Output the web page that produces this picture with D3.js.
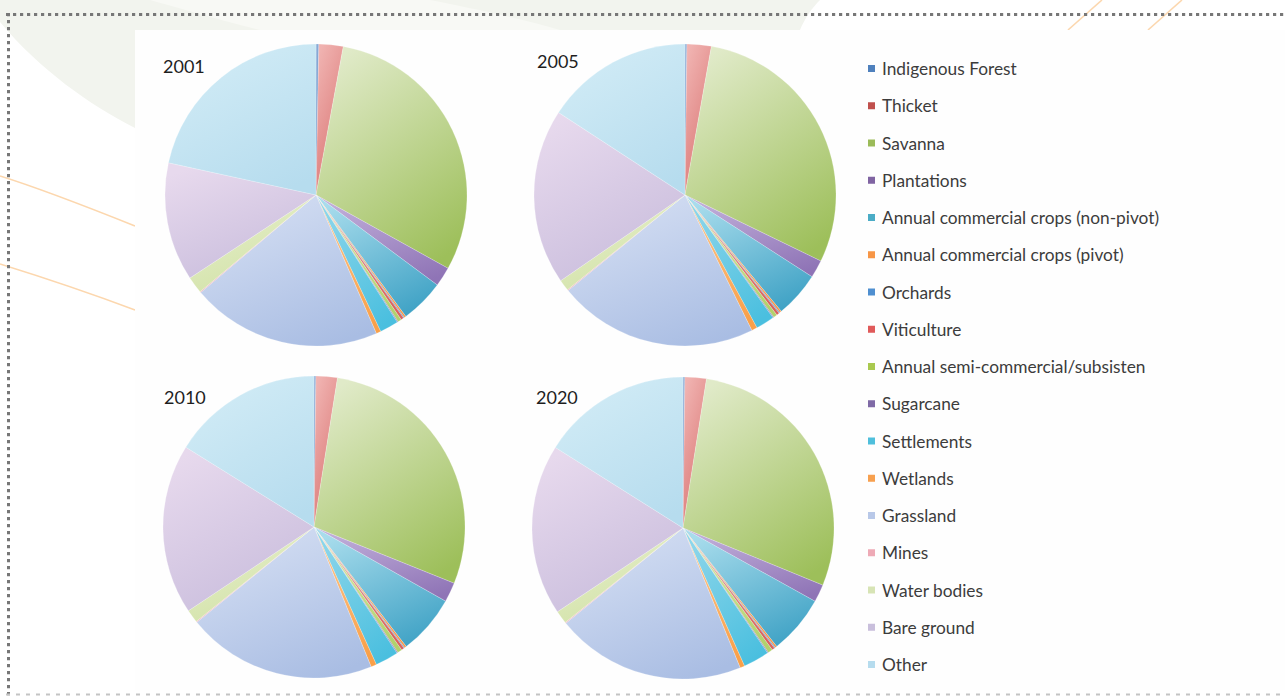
<!DOCTYPE html>
<html>
<head>
<meta charset="utf-8">
<script src="https://cdn.jsdelivr.net/npm/d3@7"></script>
<style>
  html, body { margin: 0; padding: 0; background: #ffffff; }
  svg { display: block; }
</style>
</head>
<body>
<svg id="chart" width="1285" height="696"></svg>
<script>
// Land cover categories, in slice order (clockwise from 12 o'clock)
const categories = [
  "Indigenous Forest", "Thicket", "Savanna", "Plantations",
  "Annual commercial crops (non-pivot)", "Annual commercial crops (pivot)",
  "Orchards", "Viticulture", "Annual semi-commercial/subsisten", "Sugarcane",
  "Settlements", "Wetlands", "Grassland", "Mines", "Water bodies",
  "Bare ground", "Other"
];

// Share of area (%) per category for each year
const years = ["2001", "2005", "2010", "2020"];
const share2001 = [0.3, 2.6, 30.2, 2.1, 4.7, 0.2, 0.1, 0.3, 0.4, 0.1, 2.0, 0.5, 20.4, 0.1, 1.8, 12.7, 21.6];
const share2005 = [0.2, 2.6, 29.4, 1.9, 4.9, 0.2, 0.1, 0.3, 0.4, 0.1, 2.0, 0.6, 21.4, 0.1, 1.2, 18.8, 15.8];
const share2010 = [0.2, 2.3, 28.7, 2.1, 6.4, 0.2, 0.1, 0.3, 0.5, 0.1, 2.5, 0.6, 20.4, 0.1, 1.4, 18.3, 16.2];
const share2020 = [0.2, 2.3, 28.8, 1.9, 6.3, 0.2, 0.1, 0.3, 0.5, 0.1, 2.8, 0.5, 20.4, 0.1, 1.4, 18.4, 16.1];
const shares = [share2001, share2005, share2010, share2020];

// Slice colours: [dark end, light end] of each gradient
const sliceColors = [
  ["#4f81bd", "#8fb0da"], ["#d8716f", "#f0b2b0"], ["#9dbf5a", "#e0eac8"],
  ["#8f74b6", "#c1afda"], ["#3fa2c5", "#a8dcec"], ["#f79646", "#fbb77a"],
  ["#5a96cf", "#8fbbe3"], ["#d8625f", "#ec9a98"], ["#b2d16c", "#d8e9a9"],
  ["#8e75b5", "#b9a7d5"], ["#4abfdf", "#8ed6ea"], ["#f9a049", "#fcc48a"],
  ["#a9bde3", "#d5dff3"], ["#eaa5b0", "#f5cdd3"], ["#d0e1a4", "#e7efcd"],
  ["#c8bcdc", "#e7d9ed"], ["#b6dcee", "#d2ecf6"]
];
const legendSwatch = [
  "#4f81bd", "#c0504d", "#9bbb59", "#8064a2", "#4bacc6", "#f79646",
  "#4f8fd0", "#e05a5a", "#a9c94f", "#7f6aa6", "#4fbfdc", "#f7a04f",
  "#b8c8e8", "#eeaab6", "#d7e4b5", "#c9bfdc", "#b6dcee"
];

const svg = d3.select("#chart");
const defs = svg.append("defs");

// ---- page background ornaments ----
const bg = svg.append("g");
bg.append("path")
  .attr("d", "M0,0 L0,22 C40,70 90,105 135,128 L135,30 L800,30 C805,18 812,8 820,0 Z")
  .attr("fill", "#f2f4ee");
bg.append("path")
  .attr("d", "M150,0 C200,14 235,24 260,30 L560,30 C520,18 470,8 430,0 Z")
  .attr("fill", "#f8f9f5");
bg.append("path")
  .attr("d", "M0,176 C45,190 95,210 135,226")
  .attr("fill", "none").attr("stroke", "#fcd7ae").attr("stroke-width", 1.6);
bg.append("path")
  .attr("d", "M0,264 C45,278 95,295 135,310")
  .attr("fill", "none").attr("stroke", "#fcd7ae").attr("stroke-width", 1.6);
bg.append("path")
  .attr("d", "M1068,30 L1102,0")
  .attr("fill", "none").attr("stroke", "#fcd7ae").attr("stroke-width", 1.6);
bg.append("path")
  .attr("d", "M1148,30 L1182,0")
  .attr("fill", "none").attr("stroke", "#fcd7ae").attr("stroke-width", 1.6);

// dotted frame
const frame = svg.append("g");
frame.append("line").attr("x1", 6).attr("x2", 1285).attr("y1", 14.5).attr("y2", 14.5)
  .attr("stroke", "#777").attr("stroke-width", 3).attr("stroke-dasharray", "3.2,3.8");
frame.append("line").attr("x1", 8.5).attr("x2", 8.5).attr("y1", 13).attr("y2", 696)
  .attr("stroke", "#777").attr("stroke-width", 3).attr("stroke-dasharray", "3.2,3.8");
frame.append("line").attr("x1", 6).attr("x2", 1285).attr("y1", 694.5).attr("y2", 694.5)
  .attr("stroke", "#c4c4c4").attr("stroke-width", 2).attr("stroke-dasharray", "4,6");

// chart panel
svg.append("rect").attr("x", 135).attr("y", 30).attr("width", 1150).attr("height", 660)
  .attr("fill", "#fefefe");

// ---- gradients for slices ----
sliceColors.forEach((c, i) => {
  const g = defs.append("linearGradient")
    .attr("id", "grad" + i)
    .attr("x1", 0.25).attr("y1", 0).attr("x2", 0.75).attr("y2", 1);
  g.append("stop").attr("offset", "0%").attr("stop-color", c[1]);
  g.append("stop").attr("offset", "100%").attr("stop-color", c[0]);
});

// ---- pies ----
const centers = [[316, 195], [685, 195], [314, 527], [683, 528]];
const labelPos = [[163, 73], [537, 68], [164, 404], [536, 404]];
const radius = 151;

const pie = d3.pie().sort(null).value(d => d);
const arc = d3.arc().innerRadius(0).outerRadius(radius);

years.forEach((yr, k) => {
  const g = svg.append("g")
    .attr("transform", `translate(${centers[k][0]},${centers[k][1]})`);
  g.selectAll("path")
    .data(pie(shares[k]))
    .join("path")
    .attr("d", arc)
    .attr("fill", (d, i) => `url(#grad${i})`)
    .attr("stroke", "rgba(255,255,255,0.35)")
    .attr("stroke-width", 0.6);

  svg.append("text")
    .attr("x", labelPos[k][0]).attr("y", labelPos[k][1])
    .attr("font-family", "Lato, 'Open Sans', sans-serif")
    .attr("font-size", 18)
    .attr("fill", "#1e1e1e")
    .text(yr);
});

// ---- legend ----
const legendY = d3.scalePoint()
  .domain(categories)
  .range([69, 665]);

const legend = svg.append("g");
const rows = legend.selectAll("g")
  .data(categories)
  .join("g")
  .attr("transform", d => `translate(868,${legendY(d)})`);
rows.append("rect")
  .attr("x", 0).attr("y", -4).attr("width", 7).attr("height", 7)
  .attr("fill", (d, i) => legendSwatch[i]);
rows.append("text")
  .attr("x", 14).attr("y", 0)
  .attr("dy", "0.35em")
  .attr("font-family", "Lato, 'Open Sans', sans-serif")
  .attr("font-size", 17.3)
  .attr("fill", "#3c3c3c")
  .text(d => d);
</script>
</body>
</html>
